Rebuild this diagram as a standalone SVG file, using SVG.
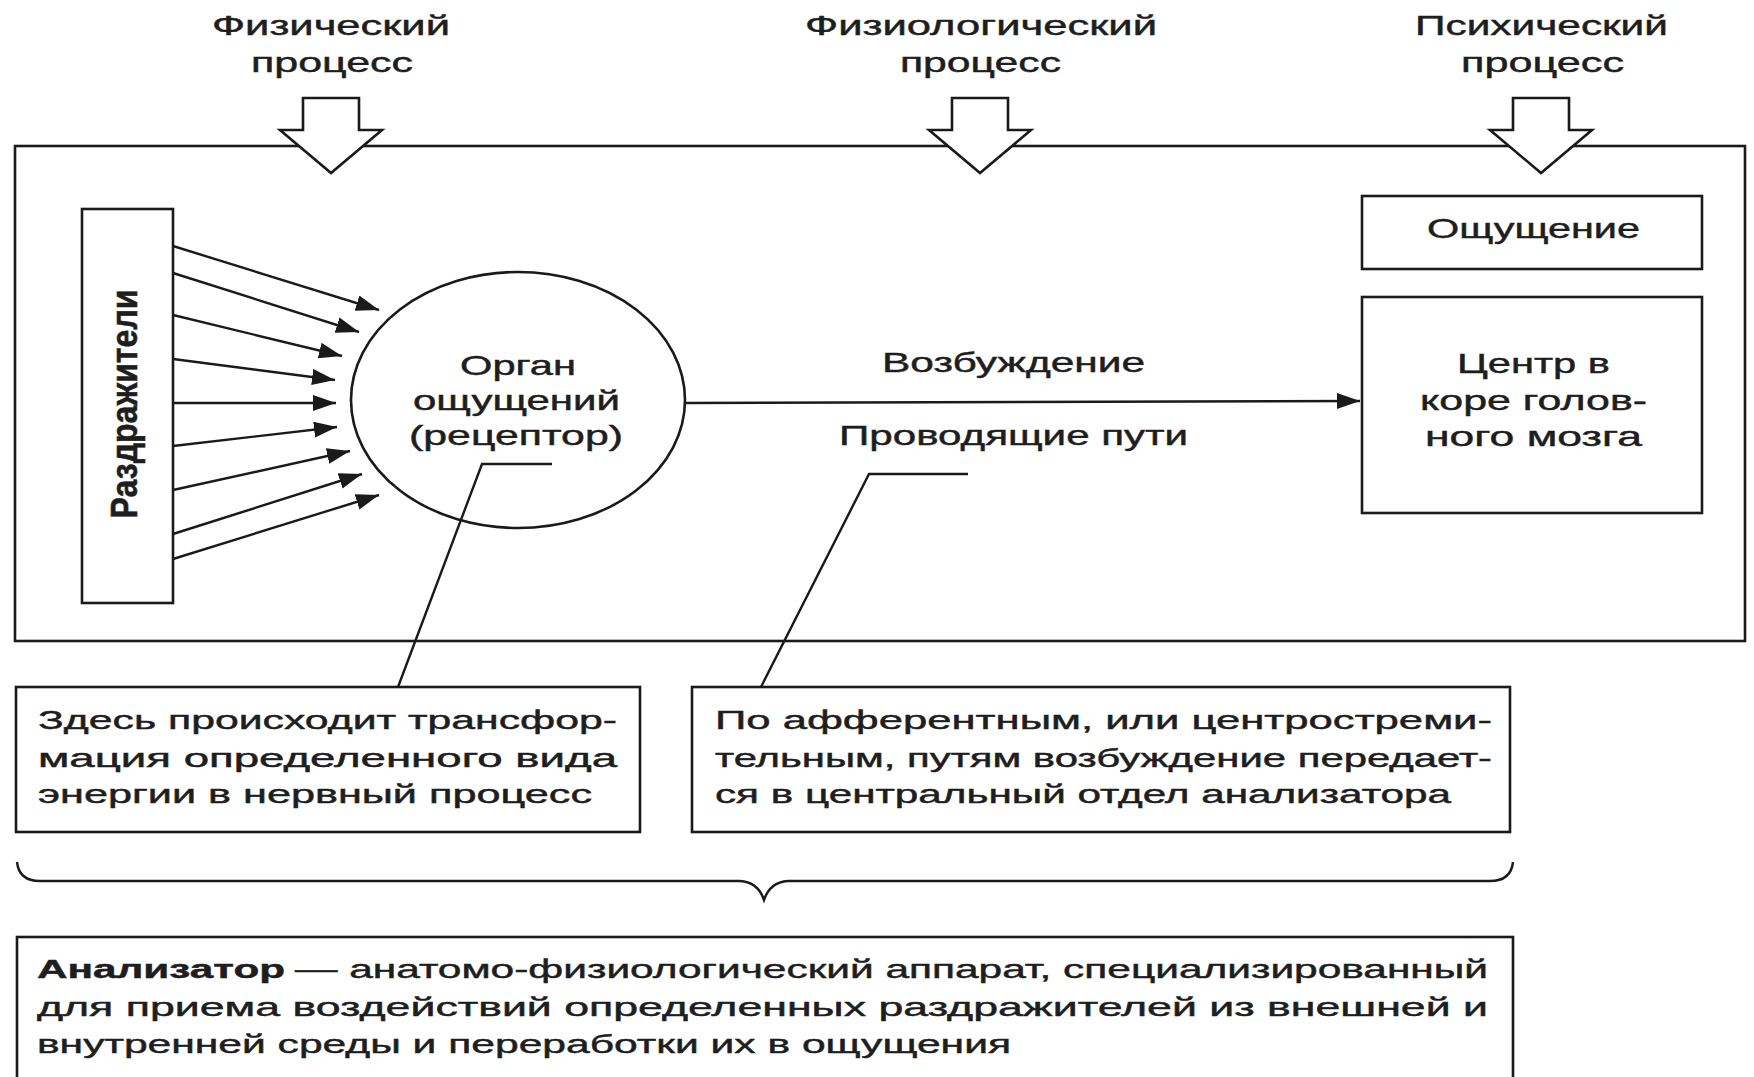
<svg xmlns="http://www.w3.org/2000/svg" width="1754" height="1077" viewBox="0 0 1754 1077">
<defs>
<style>
.ln{fill:none;stroke:#1a1a1a;stroke-width:2.4}
.bx{fill:#fff;stroke:#1a1a1a;stroke-width:2.6}
.t{font-family:"Liberation Sans",Arial,sans-serif;fill:#1e1e1e;stroke:#1e1e1e;stroke-width:0.45}
.h{font-size:28px}
.m{font-size:28px}
.s{font-size:26px}
.b{font-weight:bold}
</style>
<marker id="ah" markerUnits="userSpaceOnUse" markerWidth="26" markerHeight="18" refX="23" refY="8" orient="auto">
<path d="M0,0 L23,8 L0,16 Z" fill="#1a1a1a"/>
</marker>
</defs>
<rect width="1754" height="1077" fill="#fff"/>

<g id="frame">
<rect class="bx" x="15" y="146" width="1730" height="495"/>
</g>

<g id="label-physical">
<text class="t h" x="212" y="35" textLength="238" lengthAdjust="spacingAndGlyphs">Физический</text>
<text class="t h" x="251" y="72" textLength="162" lengthAdjust="spacingAndGlyphs">процесс</text>
<polygon class="bx" points="303,98 359,98 359,130 382,130 331,173 280,130 303,130"/>
</g>
<g id="label-physiological">
<text class="t h" x="805" y="35" textLength="352" lengthAdjust="spacingAndGlyphs">Физиологический</text>
<text class="t h" x="900" y="72" textLength="161" lengthAdjust="spacingAndGlyphs">процесс</text>
<polygon class="bx" points="952,98 1008,98 1008,130 1031,130 980,173 929,130 952,130"/>
</g>
<g id="label-psychic">
<text class="t h" x="1415" y="35" textLength="253" lengthAdjust="spacingAndGlyphs">Психический</text>
<text class="t h" x="1461" y="72" textLength="163" lengthAdjust="spacingAndGlyphs">процесс</text>
<polygon class="bx" points="1513,98 1569,98 1569,130 1592,130 1541,173 1490,130 1513,130"/>
</g>

<g id="stimuli">
<rect class="bx" x="82" y="209" width="91" height="394"/>
<text class="t b" font-size="28" text-anchor="middle" transform="translate(137,404) scale(1.3,1) rotate(-90)" textLength="229" lengthAdjust="spacingAndGlyphs">Раздражители</text>
</g>

<g id="receptor">
<ellipse class="bx" cx="518" cy="400" rx="167" ry="128"/>
<text class="t h" x="460" y="375" textLength="116" lengthAdjust="spacingAndGlyphs">Орган</text>
<text class="t h" x="413" y="410" textLength="207" lengthAdjust="spacingAndGlyphs">ощущений</text>
<text class="t h" x="409" y="445" textLength="214" lengthAdjust="spacingAndGlyphs">(рецептор)</text>
</g>

<g id="sensation">
<rect class="bx" x="1362" y="196" width="340" height="73"/>
<text class="t m" x="1427" y="238" textLength="213" lengthAdjust="spacingAndGlyphs">Ощущение</text>
</g>

<g id="cortex-center">
<rect class="bx" x="1362" y="297" width="340" height="216"/>
<text class="t m" x="1457" y="373" textLength="153" lengthAdjust="spacingAndGlyphs">Центр в</text>
<text class="t m" x="1420" y="410" textLength="227" lengthAdjust="spacingAndGlyphs">коре голов-</text>
<text class="t m" x="1425" y="446" textLength="217" lengthAdjust="spacingAndGlyphs">ного мозга</text>
</g>

<g id="pathway-labels">
<text class="t m" x="882" y="372" textLength="263" lengthAdjust="spacingAndGlyphs">Возбуждение</text>
<text class="t m" x="839" y="445" textLength="349" lengthAdjust="spacingAndGlyphs">Проводящие пути</text>
</g>

<g id="note-receptor">
<rect class="bx" x="16" y="687" width="624" height="145"/>
<text class="t s" x="38" y="729" textLength="579" lengthAdjust="spacingAndGlyphs">Здесь происходит трансфор-</text>
<text class="t s" x="38" y="767" textLength="579" lengthAdjust="spacingAndGlyphs">мация определенного вида</text>
<text class="t s" x="38" y="803" textLength="554" lengthAdjust="spacingAndGlyphs">энергии в нервный процесс</text>
</g>

<g id="note-pathways">
<rect class="bx" x="692" y="687" width="818" height="145"/>
<text class="t s" x="715" y="729" textLength="777" lengthAdjust="spacingAndGlyphs">По афферентным, или центростреми-</text>
<text class="t s" x="715" y="767" textLength="777" lengthAdjust="spacingAndGlyphs">тельным, путям возбуждение передает-</text>
<text class="t s" x="715" y="803" textLength="736" lengthAdjust="spacingAndGlyphs">ся в центральный отдел анализатора</text>
</g>

<g id="brace">
<path class="ln" d="M17,862 Q19,881 40,881 L740,881 Q758,882 764,900 Q770,882 788,881 L1490,881 Q1511,881 1513,862"/>
</g>

<g id="analyzer">
<rect class="bx" x="17" y="937" width="1496" height="170"/>
<text class="t s b" x="37" y="978" textLength="248" lengthAdjust="spacingAndGlyphs">Анализатор</text>
<text class="t s" x="295" y="978" textLength="1193" lengthAdjust="spacingAndGlyphs">— анатомо-физиологический аппарат, специализированный</text>
<text class="t s" x="37" y="1016" textLength="1451" lengthAdjust="spacingAndGlyphs">для приема воздействий определенных раздражителей из внешней и</text>
<text class="t s" x="37" y="1053" textLength="974" lengthAdjust="spacingAndGlyphs">внутренней среды и переработки их в ощущения</text>
</g>

<g id="connectors">
<line class="ln" x1="173" y1="246" x2="379" y2="310" marker-end="url(#ah)"/>
<line class="ln" x1="173" y1="273" x2="359" y2="332" marker-end="url(#ah)"/>
<line class="ln" x1="173" y1="315" x2="342" y2="356" marker-end="url(#ah)"/>
<line class="ln" x1="173" y1="359" x2="335" y2="380" marker-end="url(#ah)"/>
<line class="ln" x1="173" y1="403" x2="336" y2="403" marker-end="url(#ah)"/>
<line class="ln" x1="173" y1="446" x2="337" y2="427" marker-end="url(#ah)"/>
<line class="ln" x1="173" y1="490" x2="350" y2="451" marker-end="url(#ah)"/>
<line class="ln" x1="173" y1="534" x2="362" y2="474" marker-end="url(#ah)"/>
<line class="ln" x1="173" y1="559" x2="379" y2="495" marker-end="url(#ah)"/>
<line class="ln" x1="686" y1="403" x2="1360" y2="401" marker-end="url(#ah)"/>
<polyline class="ln" points="552,464 482,464 398,687"/>
<polyline class="ln" points="968,474 869,474 761,687"/>
</g>
</svg>
